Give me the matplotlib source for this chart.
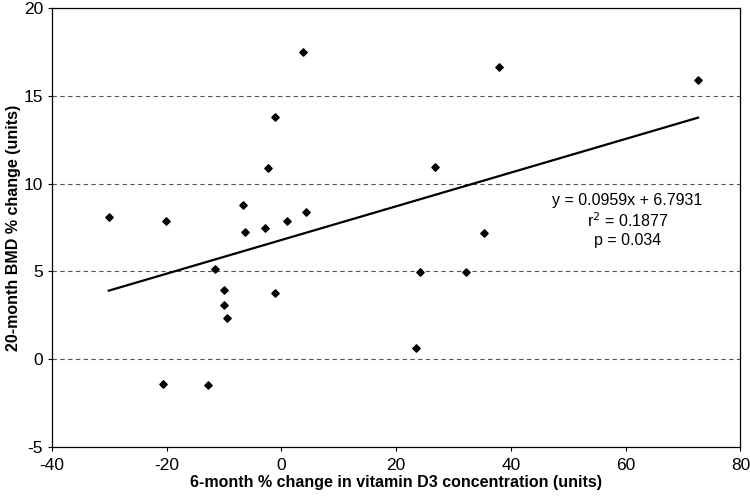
import matplotlib
matplotlib.use("Agg")
import numpy as np
import matplotlib.pyplot as plt

plt.rcParams["font.family"] = ["Liberation Sans", "DejaVu Sans"]
plt.rcParams["axes.unicode_minus"] = False

# 6-month % change in vitamin D3 vs 20-month BMD % change
vitd_change = [-30.1, -20.1, -6.7, -6.4, -2.8, 0.9, 4.2, -2.3, -1.05, -11.6,
               -10.0, -10.1, -9.5, -1.2, -20.7, -12.75, 3.8, 26.8, 37.9, 35.3,
               24.2, 32.2, 23.5, 72.6]
bmd_change = [8.1, 7.86, 8.8, 7.25, 7.46, 7.86, 8.37, 10.9, 13.8, 5.15,
              3.92, 3.1, 2.33, 3.75, -1.38, -1.46, 17.5, 10.97, 16.65, 7.2,
              4.96, 4.96, 0.63, 15.9]
slope, intercept = 0.0959, 6.7931
fit_label = "y = 0.0959x + 6.7931\nr$^2$ = 0.1877\np = 0.034"

fig = plt.figure(figsize=(7.5, 4.99), dpi=100)
ax = fig.add_axes([0.0693, 0.104, 0.918, 0.88])

for yv in (0, 5, 10, 15):
    ax.axhline(yv, color="#555555", lw=0.8, ls=(0, (4, 3)), zorder=1)

ax.scatter(vitd_change, bmd_change, marker="D", s=14, color="black", zorder=3)

xs = np.array([min(vitd_change), max(vitd_change)])
ax.plot(xs, slope * xs + intercept, color="black", lw=1.6, zorder=2)

ax.text(60.3, 7.9, fit_label, ha="center", va="center", fontsize=11.5,
        linespacing=1.2)

ax.set_xlim(-40, 80)
ax.set_ylim(-5, 20)
ax.set_xticks(range(-40, 81, 20))
ax.set_yticks(range(-5, 21, 5))
ax.tick_params(labelsize=12.5, length=3, width=0.8, direction="out")
ax.tick_params(axis="x", pad=5)
for s in ax.spines.values():
    s.set_linewidth(0.9)

ax.set_xlabel("6-month % change in vitamin D3 concentration (units)",
              fontsize=11.5, fontweight="bold", labelpad=1)
ax.set_ylabel("20-month BMD % change (units)", fontsize=11.5,
              fontweight="bold", labelpad=2)

fig.savefig("out.png", dpi=100)
